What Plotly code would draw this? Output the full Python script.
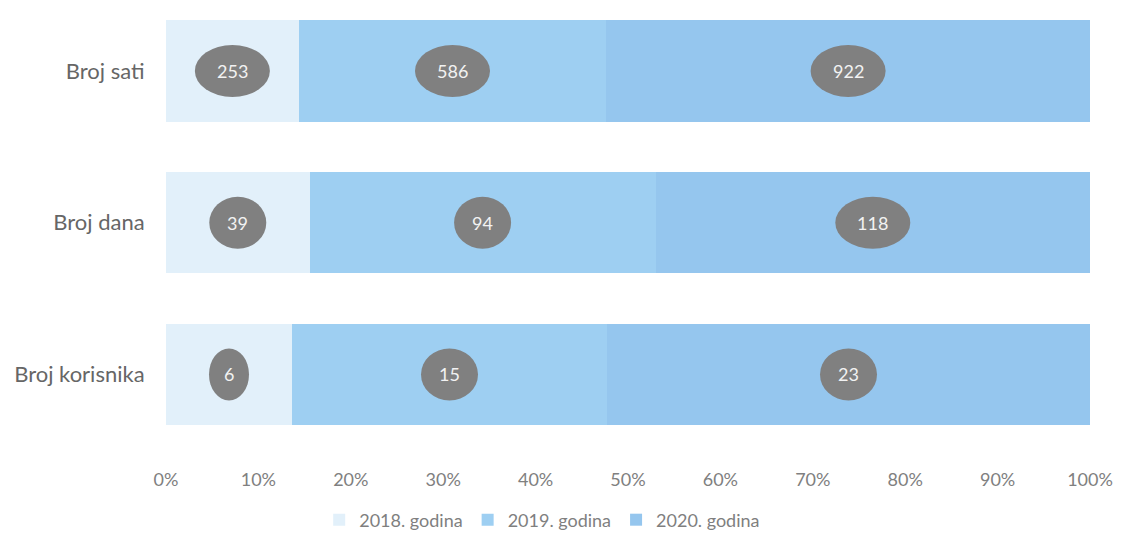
import plotly.graph_objects as go

categories = ["Broj sati", "Broj dana", "Broj korisnika"]
series_names = ["2018. godina", "2019. godina", "2020. godina"]
values_2018 = [253, 39, 6]
values_2019 = [586, 94, 15]
values_2020 = [922, 118, 23]
tick_vals = [0, 10, 20, 30, 40, 50, 60, 70, 80, 90, 100]
tick_text = ["0%", "10%", "20%", "30%", "40%", "50%", "60%", "70%", "80%", "90%", "100%"]

colors = ["#e2f0fa", "#9ecff2", "#95c6ee"]
series = [values_2018, values_2019, values_2020]
ypos = [2, 1, 0]

fig = go.Figure()
for name, vals, col in zip(series_names, series, colors):
    fig.add_trace(go.Bar(
        y=ypos, x=vals, name=name, orientation="h",
        marker=dict(color=col, line=dict(width=0)),
        width=0.667, hoverinfo="x+name",
    ))

totals = [a + b + c for a, b, c in zip(*series)]
annotations = []
for i, tot in enumerate(totals):
    cum = 0.0
    for vals in series:
        pct = vals[i] / tot * 100
        cx = cum + pct / 2
        cum += pct
        txt = str(vals[i])
        w = {1: 40, 2: 57, 3: 75}.get(len(txt), 75)
        fig.add_shape(type="circle", xref="x", yref="y",
                      xsizemode="pixel", ysizemode="pixel",
                      xanchor=cx, yanchor=ypos[i],
                      x0=-w / 2, x1=w / 2, y0=-26, y1=26,
                      fillcolor="#808080", line=dict(width=0), layer="above")
        annotations.append(dict(x=cx, y=ypos[i], xref="x", yref="y", text=txt,
                                showarrow=False,
                                font=dict(color="#f2f2f2", size=18, family="Lato")))

fig.update_layout(
    barmode="stack", barnorm="percent",
    width=1106, height=526,
    margin=dict(l=158, r=24, t=0, b=82),
    paper_bgcolor="white", plot_bgcolor="white",
    font=dict(family="Lato", color="#7f7f7f", size=18),
    annotations=annotations,
    legend=dict(orientation="h", xref="container", yref="container",
                x=0.483, xanchor="center", y=1 - 512 / 526, yanchor="middle",
                font=dict(size=18, color="#7f7f7f"), traceorder="normal",
                itemwidth=30),
    xaxis=dict(range=[0, 100], tickvals=tick_vals, ticktext=tick_text,
               showgrid=False, zeroline=False, showline=False,
               ticks="outside", ticklen=11, tickcolor="rgba(0,0,0,0)",
               ticklabeloverflow="allow",
               tickfont=dict(size=18, color="#808080")),
    yaxis=dict(range=[-0.511, 2.415], tickvals=ypos, ticktext=categories,
               showgrid=False, zeroline=False, showline=False,
               ticks="outside", ticklen=16, tickcolor="rgba(0,0,0,0)",
               tickfont=dict(size=22, color="#666666")),
)

fig.write_html("out.html")
